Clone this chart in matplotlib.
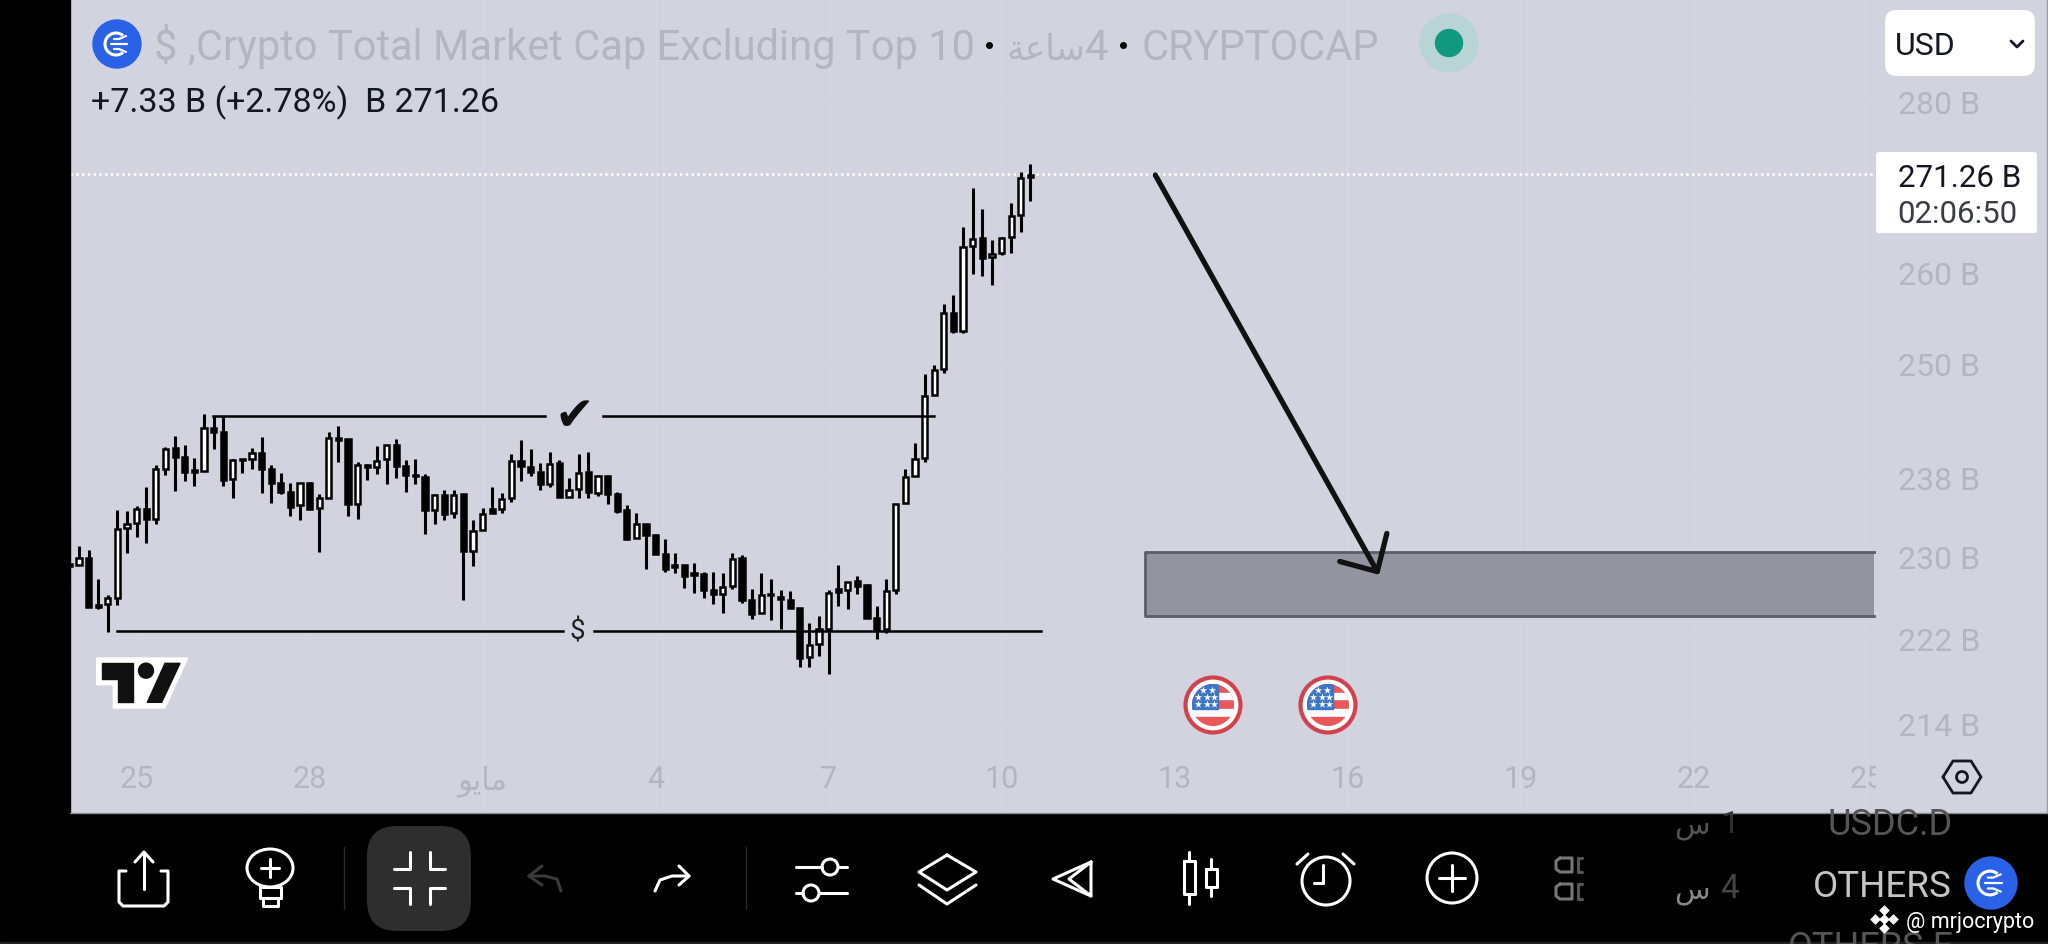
import numpy as np
import matplotlib
matplotlib.use('Agg')
import matplotlib.pyplot as plt
from matplotlib.patches import Circle, Rectangle, FancyBboxPatch, Polygon, Ellipse, Arc

plt.rcParams['font.family'] = ['Roboto', 'DejaVu Sans']

# 4h candles in billions of USD
opens = [229.2, 229.16, 229.89, 225.23, 225.3, 225.95, 232.82, 233.32, 234.74, 233.73, 238.9, 241.08, 240.11, 238.76, 238.66, 243.1, 242.65, 237.8, 239.93, 239.93,
         240.56, 238.83, 237.46, 236.54, 235.14, 237.46, 234.84, 235.92, 242.12, 241.95, 235.31, 239.28, 239.07, 239.87, 241.36, 239.18, 238.28, 238.08, 234.67, 236.16,
         234.33, 236.26, 230.55, 232.62, 234.81, 234.81, 235.86, 239.69, 239.07, 238.56, 237.32, 239.45, 235.99, 236.78, 238.56, 236.44, 238.18, 236.33, 234.64, 231.81,
         233.29, 232.15, 230.22, 229.19, 229.13, 228.33, 228.24, 226.66, 226.27, 227.09, 229.82, 225.72, 224.42, 226.34, 226.04, 225.72, 224.97, 220.23, 221.44, 222.94,
         226.76, 226.66, 227.58, 227.15, 224.0, 222.88, 226.7, 235.35, 238.14, 240.04, 246.63, 249.38, 255.49, 253.54, 262.96, 263.87, 261.71, 262.16, 264.06, 266.58, 271.19]
highs = [232.5, 231.05, 230.65, 227.74, 226.21, 234.67, 234.57, 235.08, 237.05, 239.24, 241.15, 242.30, 241.36, 240.00, 244.58, 244.40, 244.40, 239.93, 239.93, 241.08, 242.19,
         239.24, 238.49, 237.39, 237.46, 237.56, 236.33, 242.65, 243.35, 242.02, 239.62, 239.35, 241.25, 241.43, 242.02, 239.80, 239.93, 238.32, 236.33, 236.71, 236.71,
         236.33, 233.63, 234.91, 237.01, 236.44, 240.45, 241.84, 240.90, 239.52, 240.66, 239.80, 237.97, 240.38, 240.66, 238.21, 238.21, 236.54, 235.14, 234.40, 233.29,
         232.22, 231.71, 230.38, 229.16, 229.39, 228.47, 228.50, 228.33, 230.32, 230.15, 226.83, 228.40, 227.74, 226.66, 226.60, 224.97, 223.45, 224.16, 226.66, 229.13,
         227.51, 228.07, 227.25, 225.13, 227.81, 235.31, 238.83, 241.53, 248.91, 249.81, 256.45, 257.48, 265.12, 269.63, 267.23, 263.71, 263.98, 267.93, 271.50, 272.52]
lows = [227.2, 229.16, 225.07, 224.87, 222.62, 225.20, 230.38, 231.98, 231.31, 233.29, 238.25, 236.61, 237.63, 237.12, 238.66, 240.97, 237.12, 235.86, 238.42, 238.90, 236.44,
        235.38, 236.30, 234.03, 233.63, 234.81, 230.45, 235.92, 239.62, 234.03, 233.79, 237.73, 238.35, 237.36, 237.97, 236.47, 237.29, 232.28, 233.29, 233.63, 233.89,
        225.72, 229.06, 232.62, 234.33, 234.33, 235.52, 237.63, 238.14, 236.71, 237.05, 236.03, 235.99, 235.86, 235.89, 236.09, 235.28, 234.33, 231.65, 231.81, 228.80,
        230.22, 228.47, 228.33, 226.86, 226.37, 225.95, 225.36, 224.42, 226.83, 225.39, 223.84, 224.42, 223.74, 222.94, 224.97, 219.31, 219.28, 220.32, 218.65, 225.13,
        224.87, 226.34, 224.00, 221.91, 222.55, 226.34, 235.35, 238.14, 239.62, 246.63, 248.95, 253.36, 253.36, 259.79, 259.64, 258.60, 261.97, 262.24, 264.55, 268.20]
closes = [229.05, 229.89, 225.07, 225.07, 225.95, 232.72, 233.22, 234.74, 233.73, 238.83, 240.97, 240.11, 238.59, 238.56, 243.1, 242.65, 237.7, 239.8, 239.76, 240.56, 238.83,
          237.46, 236.54, 235.01, 237.39, 234.81, 235.89, 242.12, 241.88, 235.31, 239.24, 239.07, 239.69, 241.36, 239.18, 238.21, 238.11, 234.64, 236.2, 234.23, 236.2,
          230.55, 232.55, 234.3, 234.33, 235.82, 239.69, 239.18, 238.56, 237.32, 239.42, 236.03, 236.71, 238.49, 236.47, 238.14, 236.3, 234.57, 231.71, 233.22, 232.15,
          230.22, 228.73, 228.99, 228.07, 228.17, 226.66, 226.27, 227.02, 229.72, 225.69, 224.32, 226.21, 226.17, 225.78, 224.97, 220.16, 221.34, 222.88, 226.37, 226.5,
          227.48, 227.09, 224.0, 222.88, 226.6, 235.25, 238.04, 239.87, 246.52, 249.31, 255.49, 253.47, 262.84, 263.79, 261.63, 262.09, 263.9, 266.46, 270.8, 270.95]

price_ticks = [280, 260, 250, 238, 230, 222, 214]
price_labels = ['280 B', '260 B', '250 B', '238 B', '230 B', '222 B', '214 B']
date_ticks = [6, 24, 42, 60, 78, 96, 114, 132, 150, 168, 186]
date_labels = ['25', '28', '\ufeee\ufef3\ufe8e\ufee3', '4', '7', '10', '13', '16', '19', '22', '25']

last_price = 271.26
resistance = 244.4
res_spans = [(13.9, 48.5), (54.5, 89.0)]
support = 222.7
sup_spans = [(3.95, 50.4), (53.6, 100.1)]
zone_top, zone_bottom, zone_start, zone_end = 230.4, 224.2, 110.9, 186.8
arrow_x = [112.0, 135.1]
arrow_y = [271.2, 228.5]
head_x = [136.1, 135.1, 131.2]
head_y = [232.3, 228.5, 229.5]

BG = '#d1d4de'
FADED = '#b3b6c0'
W, H = 2048, 945
CHART_L, CHART_R, CHART_B = 70, 1876, 813

fig = plt.figure(figsize=(20.48, 9.45), dpi=100, facecolor=BG)
ax = fig.add_axes([CHART_L / W, (H - CHART_B) / H, (CHART_R - CHART_L) / W, CHART_B / H], facecolor=BG)
ax.set_yscale('log')
ax.set_xlim(-0.937, 187.0)
ax.set_ylim(205.96, 292.62)
for s in ax.spines.values():
    s.set_visible(False)

ax.yaxis.tick_right()
ax.set_yticks(price_ticks, labels=price_labels)
ax.minorticks_off()
ax.set_xticks(date_ticks, labels=date_labels)
ax.tick_params(axis='y', length=0, pad=15.8, labelsize=23, labelcolor=FADED)
ax.tick_params(axis='x', length=0, direction='in', pad=-34.6, labelsize=22, labelcolor=FADED)
for lab in ax.get_xticklabels():
    lab.set_clip_on(True)
    lab.set_clip_box(ax.bbox)
ax.grid(True, color='#d5d8e2', lw=1)
ax.set_axisbelow(True)

# candles
opens, highs, lows, closes = map(np.array, (opens, highs, lows, closes))
idx = np.arange(-1, len(opens) - 1)
up = closes >= opens
ax.vlines(idx, lows, highs, color='black', lw=2.2, zorder=3)
body_lo = np.minimum(opens, closes)
body_hi = np.maximum(opens, closes)
ax.bar(idx, body_hi - body_lo, bottom=body_lo, width=0.54,
       color=np.where(up, 'white', 'black'), edgecolor='black', lw=1.8, zorder=4)

# drawings on the chart
ax.axhline(last_price, color='white', lw=1.8, ls=(0, (1.0, 1.3)), zorder=2)
for a, b in res_spans:
    ax.plot([a, b], [resistance, resistance], color='black', lw=1.8, zorder=5)
for a, b in sup_spans:
    ax.plot([a, b], [support, support], color='black', lw=1.8, zorder=5)
ax.text(51.5, resistance, '\u2714', fontsize=34, ha='center', va='center', color='#111111')
ax.text(51.9, support, '$', fontsize=20, ha='center', va='center', color='#222222')
ax.add_patch(Rectangle((zone_start, zone_bottom), zone_end - zone_start, zone_top - zone_bottom,
                       facecolor='#92959f', edgecolor='none', zorder=1.5))
ax.plot([zone_end, zone_start, zone_start, zone_end], [zone_top, zone_top, zone_bottom, zone_bottom],
        color='#5b5d68', lw=2, zorder=1.6)
ax.plot(arrow_x, arrow_y, color='#111111', lw=3.8, solid_capstyle='round', zorder=6)
ax.plot(head_x, head_y, color='#111111', lw=3.8, solid_capstyle='round',
        solid_joinstyle='round', zorder=6)

# screen furniture, in pixels of the screenshot
ov = fig.add_axes([0, 0, 1, 1], facecolor='none')
ov.set_xlim(0, W)
ov.set_ylim(H, 0)
ov.axis('off')


def pl(xs, ys, color='white', lw=2.2, z=10):
    ov.plot(xs, ys, color=color, lw=lw, solid_capstyle='round', solid_joinstyle='round', zorder=z)


def txt(x, y, s, size=22, color='black', ha='left', va='baseline', clip=None, **kw):
    t = ov.text(x, y, s, fontsize=size, color=color, ha=ha, va=va, zorder=11, **kw)
    if clip:
        t.set_clip_path(Rectangle((clip[0], clip[1]), clip[2], clip[3], transform=ov.transData))
    return t


def logo(cx, cy, r):
    ov.add_patch(Circle((cx, cy), r, color='#2962e6', zorder=10))
    k = r / 24
    ov.add_patch(Arc((cx - 1 * k, cy), 22 * k, 22 * k, theta1=50, theta2=310, color='white', lw=2.2, zorder=11))
    pl([cx - 6 * k, cx + 10 * k], [cy, cy], lw=1.6, z=11)
    pl([cx - 3 * k, cx + 2 * k, cx + 9 * k], [cy - 5 * k, cy - 5 * k, cy - 8 * k], lw=1.6, z=11)
    pl([cx - 3 * k, cx + 2 * k, cx + 9 * k], [cy + 5 * k, cy + 5 * k, cy + 8 * k], lw=1.6, z=11)


def flag(cx, cy):
    ov.add_patch(Circle((cx, cy), 27.5, facecolor='white', edgecolor='#d3414c', lw=3, zorder=10))
    clip = Circle((cx, cy), 21, transform=ov.transData)
    parts = [(-21, -21, 42, 25, '#e8575a'), (-16, -12, 37, 6, 'white'), (-21, 4, 42, 8, 'white'),
             (-21, -21, 26, 25, '#3c76c6')]
    for dx, dy, w, h, c in parts:
        p = Rectangle((cx + dx, cy + dy), w, h, color=c, zorder=11)
        ov.add_patch(p)
        p.set_clip_path(clip)
    ov.add_patch(Rectangle((cx - 21, cy + 12), 42, 9, color='#e8575a', zorder=11)).set_clip_path(clip)
    sx = [cx - 10, cx - 1, cx - 15, cx - 6, cx + 1, cx - 15, cx - 6, cx + 1]
    sy = [cy - 15, cy - 15, cy - 8, cy - 8, cy - 8, cy - 1, cy - 1, cy - 1]
    ov.scatter(sx, sy, marker='*', s=32, color='white', lw=0, zorder=12)


# black frame
ov.add_patch(Rectangle((0, 0), CHART_L, H, color='black', zorder=8))
ov.add_patch(Rectangle((0, 815), W, H - 815, color='black', zorder=8))
ov.add_patch(Rectangle((0, 943), W, 2, color='#222222', zorder=9))
pl([CHART_L, W], [813.5, 813.5], color='#8a8c94', lw=1, z=9)
pl([2047, 2047], [0, 813], color='#9a9ca4', lw=1, z=9)

# header
logo(117, 45, 24)
txt(154, 60, '$ ,Crypto Total Market Cap Excluding Top 10', size=30, color=FADED)
ov.scatter([989, 1123], [46, 46], s=16, color='black', zorder=11)
txt(1085, 60, '\ufe94\ufecb\ufe8e\ufeb3', size=25, color=FADED, ha='right')
txt(1108, 60, '4', size=30, color=FADED, ha='right')
txt(1141, 60, 'CRYPTOCAP', size=30, color=FADED)
ov.add_patch(Circle((1449, 44), 29, color='#b9d4d6', zorder=10))
ov.add_patch(Circle((1449, 44), 13.5, color='#0f9a80', zorder=11))
txt(91, 112, '+7.33 B (+2.78%)  B 271.26', size=24.5, color='#131722')

# currency box and price tag
ov.add_patch(FancyBboxPatch((1893, 19), 134, 50, boxstyle='round,pad=8,rounding_size=12', facecolor='white',
                            edgecolor='none', zorder=10))
txt(1895, 55, 'USD', size=23, color='#131722')
pl([2011, 2017, 2023], [42, 48, 42], color='#131722', lw=2)
ov.add_patch(FancyBboxPatch((1879, 156), 155, 75, boxstyle='round,pad=3,rounding_size=3', facecolor='white',
                            edgecolor='none', zorder=10))
txt(1898, 187, '271.26 B', size=22.5, color='#131722')
txt(1897, 223, '02:06:50', size=22.5, color='#3a3d46')

# hexagon settings icon
hex_x = [1943, 1953, 1971, 1981, 1971, 1953, 1943]
hex_y = [778, 762, 762, 778, 794, 794, 778]
pl(hex_x, hex_y, color='#131722', lw=2)
ov.add_patch(Circle((1962, 778), 5.5, fill=False, edgecolor='#131722', lw=2, zorder=10))

# flags
flag(1213, 706)
flag(1328, 706)

# tradingview logo
tv = lambda pts: [(85 + a / 3, 645 + b / 3) for a, b in pts]
ov.add_patch(Polygon(tv([(35, 42), (308, 42), (240, 192), (85, 192), (85, 122), (35, 122)]), color='white', zorder=6))
ov.add_patch(Polygon(tv([(50, 58), (145, 58), (145, 175), (98, 175), (98, 105), (50, 105)]), color='#111111', zorder=7))
ov.add_patch(Polygon(tv([(240, 58), (285, 58), (230, 175), (187, 175)]), color='#111111', zorder=7))
ov.add_patch(Circle((85 + 183 / 3, 645 + 80 / 3), 7.5, color='#111111', zorder=7))

# toolbar
ov.add_patch(FancyBboxPatch((392, 852), 54, 55, boxstyle='round,pad=25,rounding_size=30', facecolor='#2e2e2e',
                            edgecolor='none', zorder=9))
pl([126, 119, 119, 123, 164, 168, 168, 161], [872, 872, 903, 907, 907, 903, 872, 872])
pl([144, 144], [855, 890])
pl([135, 144, 153], [863, 853, 863])
ov.add_patch(Ellipse((270, 869), 46, 38, fill=False, edgecolor='white', lw=2.2, zorder=10))
pl([270, 270], [860, 878])
pl([261, 279], [869, 869])
pl([260, 281, 281, 260, 260], [888, 888, 899, 899, 888])
pl([263, 278, 278, 263, 263], [899, 899, 907, 907, 899])
pl([344, 344], [848, 910], color='#2a2a2a', lw=1)
pl([410, 410, 394], [853, 870, 870])
pl([430, 430, 445], [853, 870, 870])
pl([394, 410, 410], [889, 889, 905])
pl([445, 430, 430], [889, 889, 905])
pl([561, 557, 545, 529], [892, 880, 877, 877], color='#3a3a3a')
pl([542, 529, 542], [867, 877, 886], color='#3a3a3a')
pl([655, 660, 672, 689], [892, 881, 877, 877])
pl([679, 689, 679], [867, 877, 886])
pl([746, 746], [848, 910], color='#2a2a2a', lw=1)
pl([796, 822], [868, 868])
pl([838, 847], [868, 868])
ov.add_patch(Circle((830, 868), 8, fill=False, edgecolor='white', lw=2.2, zorder=10))
pl([796, 803], [894, 894])
pl([819, 847], [894, 894])
ov.add_patch(Circle((811, 894), 8, fill=False, edgecolor='white', lw=2.2, zorder=10))
pl([947, 976, 947, 919, 947], [856, 873, 891, 873, 856])
pl([919, 947, 976], [886, 905, 886])
pl([1091, 1053, 1091], [863, 880, 897])
pl([1091, 1069, 1091, 1091], [863, 880, 897, 863])
pl([1189, 1189], [853, 862])
pl([1189, 1189], [895, 905])
pl([1184, 1195, 1195, 1184, 1184], [862, 862, 895, 895, 862])
pl([1211, 1211], [860, 870])
pl([1211, 1211], [888, 897])
pl([1206, 1217, 1217, 1206, 1206], [870, 870, 888, 888, 870])
ov.add_patch(Circle((1326, 882), 24, fill=False, edgecolor='white', lw=2.2, zorder=10))
pl([1323, 1323, 1314], [866, 884, 884])
pl([1297, 1308], [865, 855])
pl([1354, 1343], [865, 855])
ov.add_patch(Circle((1452, 879), 25, fill=False, edgecolor='white', lw=2.2, zorder=10))
pl([1452, 1452], [866, 892])
pl([1439, 1465], [879, 879])
for top, bot in [(859, 873), (885, 900)]:
    pl([1560, 1572, 1572, 1560, 1556, 1556, 1560], [top, top, bot, bot, bot - 3, top + 3, top], color='#777777')
    pl([1582, 1578, 1578, 1582], [top, top, bot, bot], color='#555555')

# symbols sliding under the toolbar
bar_clip = (1600, 815, 448, 128)
txt(1739, 898, '4', size=24, color='#444444', ha='right', clip=bar_clip)
txt(1710, 898, '\ufeb1', size=21, color='#888888', ha='right', clip=bar_clip)
txt(1739, 833, '1', size=22, color='#333333', ha='right', clip=bar_clip)
txt(1710, 833, '\ufeb1', size=21, color='#555555', ha='right', clip=bar_clip)
txt(1827, 835, 'USDC.D', size=26, color='#555555', clip=bar_clip)
txt(1813, 897, 'OTHERS', size=26.5, color='#c4c4c4', clip=bar_clip)
logo(1991, 884, 26)
txt(1788, 958, 'OTHERS.F', size=26, color='#555555', clip=bar_clip)
ov.scatter([1884, 1884, 1875, 1893, 1884], [911, 929, 920, 920, 920], marker='D', s=30, color='white', lw=0, zorder=12)
txt(1906, 928, '@ mrjocrypto', size=15.5, color='white')

fig.savefig('out.png', dpi=100, facecolor=BG)
